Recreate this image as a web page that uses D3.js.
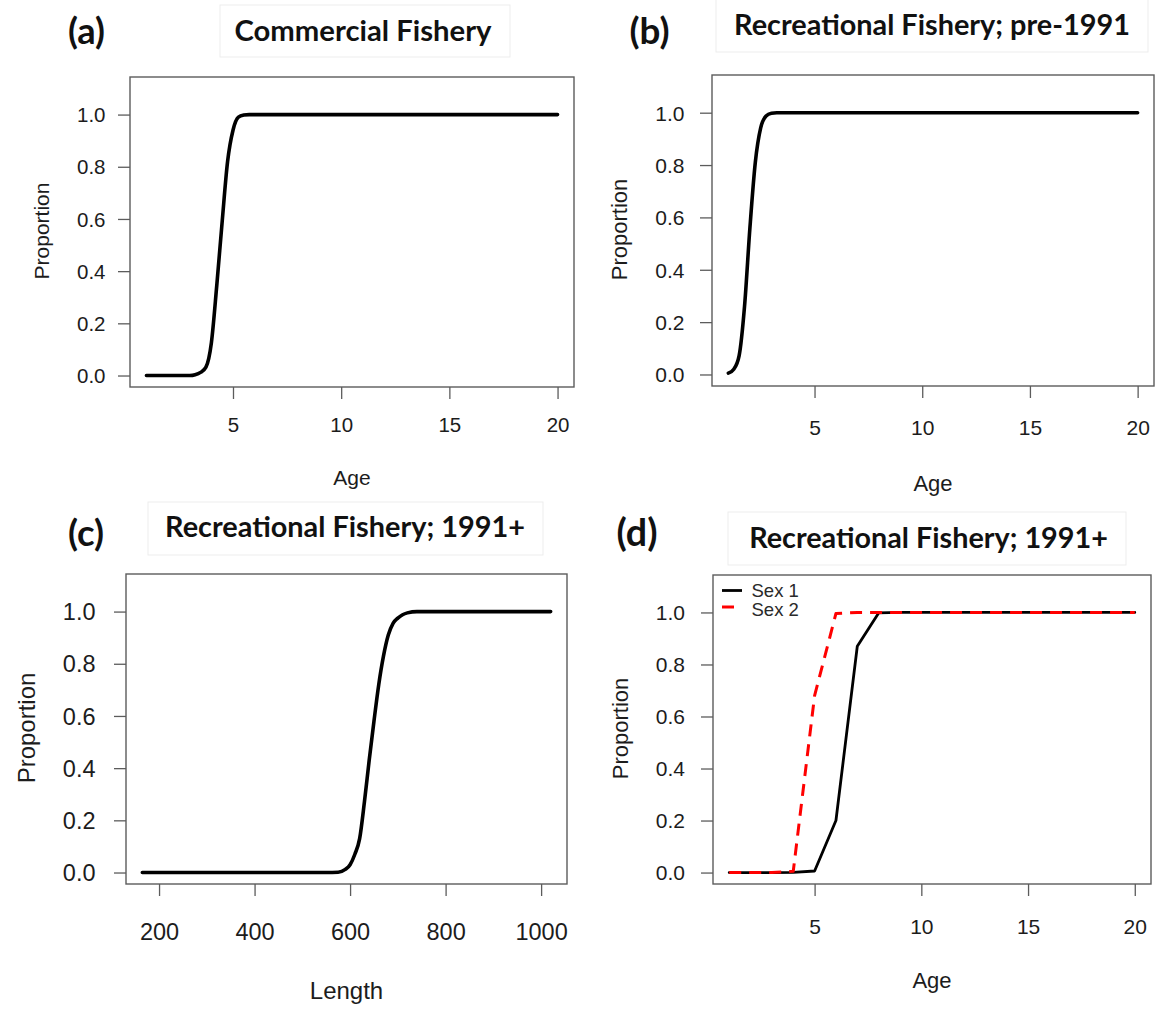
<!DOCTYPE html>
<html>
<head>
<meta charset="utf-8">
<script src="https://cdn.jsdelivr.net/npm/d3@7"></script>
<style>
  html, body { margin: 0; padding: 0; background: #fff; }
  svg { display: block; }
</style>
</head>
<body>
<svg id="fig" width="1155" height="1009"></svg>
<script>
// ---- Selectivity curves ----
// (a) Commercial fishery, selectivity at age
const ageCommercial = [1, 2, 3, 3.25, 3.5, 3.75, 4, 4.25, 4.5, 4.75, 5, 5.25, 5.5, 5.75, 6, 7, 8, 9, 10, 11, 12, 13, 14, 15, 16, 17, 18, 19, 20];
const selCommercial = [0, 0, 0, 0.003, 0.012, 0.032, 0.125, 0.345, 0.59, 0.82, 0.94, 0.99, 0.998, 1, 1, 1, 1, 1, 1, 1, 1, 1, 1, 1, 1, 1, 1, 1, 1];

// (b) Recreational fishery before 1991, selectivity at age
const agePre1991 = [1, 1.25, 1.5, 1.75, 2, 2.25, 2.5, 2.75, 3, 3.25, 4, 5, 6, 7, 8, 9, 10, 11, 12, 13, 14, 15, 16, 17, 18, 19, 20];
const selPre1991 = [0.005, 0.02, 0.072, 0.26, 0.56, 0.81, 0.942, 0.987, 0.998, 1, 1, 1, 1, 1, 1, 1, 1, 1, 1, 1, 1, 1, 1, 1, 1, 1, 1];

// (c) Recreational fishery 1991+, selectivity at length
const lengthRec = [165, 550, 575, 590, 600, 610, 620, 630, 640, 650, 660, 670, 680, 690, 700, 710, 720, 740, 1020];
const selLengthRec = [0, 0, 0.001, 0.012, 0.03, 0.07, 0.13, 0.27, 0.43, 0.58, 0.72, 0.83, 0.91, 0.955, 0.975, 0.988, 0.995, 1, 1];

// (d) Recreational fishery 1991+, selectivity at age by sex
const ageRec = [1, 2, 3, 4, 5, 6, 7, 8, 9, 10, 11, 12, 13, 14, 15, 16, 17, 18, 19, 20];
const selSex1 = [0, 0, 0, 0.001, 0.006, 0.2, 0.87, 0.998, 1, 1, 1, 1, 1, 1, 1, 1, 1, 1, 1, 1];
const selSex2 = [0, 0, 0, 0.005, 0.68, 0.996, 1, 1, 1, 1, 1, 1, 1, 1, 1, 1, 1, 1, 1, 1];
const sexNames = ["Sex 1", "Sex 2"];

// Axis ticks and labels
const ageTicks = [5, 10, 15, 20];
const lengthTicks = [200, 400, 600, 800, 1000];
const propTicks = [0, 0.2, 0.4, 0.6, 0.8, 1.0];
const propLimits = [0, 1.1];
const panelTags = ["(a)", "(b)", "(c)", "(d)"];
const panelTitles = ["Commercial Fishery", "Recreational Fishery; pre-1991", "Recreational Fishery; 1991+", "Recreational Fishery; 1991+"];

const svg = d3.select("#fig");
const AXIS_COLOR = "#5c5c5c";
const TEXT_COLOR = "#1c1c1c";
const SANS = "'Liberation Sans', Arial, sans-serif";
const TITLE_FONT = "Lato, 'Open Sans', sans-serif";

// R-style axis limits: data range padded by 4% on each side
function padded(lo, hi) {
  const e = (hi - lo) * 0.04;
  return [lo - e, hi + e];
}

// Fit bold title text to a target width
function fitText(sel, width) {
  sel.attr("font-size", 100);
  const w = sel.node().getComputedTextLength();
  sel.attr("font-size", 100 * width / w);
}

function drawPanel(p) {
  const g = svg.append("g");
  const b = p.box;

  // heading frame, heading and panel tag
  g.append("rect")
    .attr("x", p.head.box[0]).attr("y", p.head.box[1])
    .attr("width", p.head.box[2] - p.head.box[0])
    .attr("height", p.head.box[3] - p.head.box[1])
    .attr("fill", "none").attr("stroke", "#ededed").attr("stroke-width", 1);
  const t = g.append("text")
    .attr("x", p.head.cx).attr("y", p.head.baseline)
    .attr("text-anchor", "middle")
    .attr("font-family", TITLE_FONT).attr("font-weight", 700)
    .attr("fill", "#111")
    .text(p.title);
  fitText(t, p.head.width);
  const tag = g.append("text")
    .attr("x", p.tag.x).attr("y", p.tag.baseline)
    .attr("font-family", TITLE_FONT).attr("font-weight", 700)
    .attr("fill", "#111")
    .text(p.tagText);
  fitText(tag, p.tag.width);

  const x = d3.scaleLinear().domain(padded(p.xExtent[0], p.xExtent[1])).range([b.left, b.right]);
  const y = d3.scaleLinear().domain(padded(propLimits[0], propLimits[1])).range([b.bottom, b.top]);

  // axes
  const xAxis = g.append("g").attr("transform", `translate(0,${b.bottom})`)
    .call(d3.axisBottom(x).tickValues(p.xTicks).tickSize(12).tickFormat(d3.format("d")));
  const yAxis = g.append("g").attr("transform", `translate(${b.left},0)`)
    .call(d3.axisLeft(y).tickValues(propTicks).tickSize(12).tickFormat(d3.format(".1f")));
  [xAxis, yAxis].forEach(a => {
    a.select(".domain").remove();
    a.selectAll(".tick line").attr("stroke", AXIS_COLOR).attr("stroke-width", 1.3);
    a.selectAll(".tick text")
      .attr("font-family", SANS).attr("font-size", p.tickFont)
      .attr("fill", TEXT_COLOR).attr("dy", "0.35em");
  });
  xAxis.selectAll(".tick text").attr("y", p.xLabelOff);
  yAxis.selectAll(".tick text").attr("x", -p.yLabelGap);

  // plot frame
  g.append("rect")
    .attr("x", b.left).attr("y", b.top)
    .attr("width", b.right - b.left).attr("height", b.bottom - b.top)
    .attr("fill", "none").attr("stroke", AXIS_COLOR).attr("stroke-width", 1.4);

  // axis titles
  g.append("text")
    .attr("x", (b.left + b.right) / 2).attr("y", b.bottom + p.xTitleOff)
    .attr("dy", "0.35em").attr("text-anchor", "middle")
    .attr("font-family", SANS).attr("font-size", p.titleFont).attr("fill", TEXT_COLOR)
    .text(p.xTitle);
  g.append("text")
    .attr("transform", `translate(${b.left - p.yTitleOff},${(b.top + b.bottom) / 2 - 1}) rotate(-90)`)
    .attr("dy", "0.35em").attr("text-anchor", "middle")
    .attr("font-family", SANS).attr("font-size", p.titleFont).attr("fill", TEXT_COLOR)
    .text("Proportion");

  // curves
  p.series.forEach(s => {
    const line = d3.line()
      .x(d => x(d[0])).y(d => y(d[1]))
      .curve(p.smooth ? d3.curveMonotoneX : d3.curveLinear);
    g.append("path")
      .attr("d", line(d3.zip(s.x, s.y)))
      .attr("fill", "none")
      .attr("stroke", s.color)
      .attr("stroke-width", s.width)
      .attr("stroke-dasharray", s.dash || null)
      .attr("stroke-linecap", s.dash ? "butt" : "round")
      .attr("stroke-linejoin", "round");
  });

  // legend (top-left, no frame)
  if (p.legend) {
    p.series.forEach((s, i) => {
      const ly = b.top + p.legend.rows[i];
      g.append("line")
        .attr("x1", b.left + p.legend.x0).attr("x2", b.left + p.legend.x1)
        .attr("y1", ly).attr("y2", ly)
        .attr("stroke", s.color).attr("stroke-width", s.width)
        .attr("stroke-dasharray", s.dash || null);
      g.append("text")
        .attr("x", b.left + p.legend.tx).attr("y", b.top + p.legend.textRows[i]).attr("dy", "0.35em")
        .attr("font-family", SANS).attr("font-size", p.legend.font).attr("fill", "#2a2a2a")
        .text(s.name);
    });
  }
}

const panels = [
  {
    tagText: panelTags[0], title: panelTitles[0],
    head: { box: [220, 5, 510, 57], cx: 363, baseline: 41, width: 257 },
    tag: { x: 68, baseline: 44, width: 37 },
    box: { left: 130, top: 77, right: 574, bottom: 387 },
    xExtent: [1, 20], xTicks: ageTicks, xTitle: "Age", smooth: true,
    tickFont: 20.5, titleFont: 21,
    xLabelOff: 38, yLabelGap: 24.5, xTitleOff: 91, yTitleOff: 88,
    series: [{ x: ageCommercial, y: selCommercial, color: "#000", width: 3.6 }]
  },
  {
    tagText: panelTags[1], title: panelTitles[1],
    head: { box: [716, -2, 1148, 52], cx: 932, baseline: 35, width: 396 },
    tag: { x: 629.5, baseline: 44, width: 40 },
    box: { left: 712, top: 75, right: 1154, bottom: 386 },
    xExtent: [1, 20], xTicks: ageTicks, xTitle: "Age", smooth: true,
    tickFont: 21, titleFont: 22,
    xLabelOff: 42, yLabelGap: 27.5, xTitleOff: 97, yTitleOff: 93,
    series: [{ x: agePre1991, y: selPre1991, color: "#000", width: 3.6 }]
  },
  {
    tagText: panelTags[2], title: panelTitles[2],
    head: { box: [148, 502, 543, 555], cx: 345, baseline: 537, width: 360 },
    tag: { x: 68, baseline: 546, width: 36 },
    box: { left: 126, top: 574, right: 567, bottom: 884 },
    xExtent: [165, 1020], xTicks: lengthTicks, xTitle: "Length", smooth: true,
    tickFont: 23.5, titleFont: 24,
    xLabelOff: 47.5, yLabelGap: 30.5, xTitleOff: 107, yTitleOff: 99,
    series: [{ x: lengthRec, y: selLengthRec, color: "#000", width: 3.6 }]
  },
  {
    tagText: panelTags[3], title: panelTitles[3],
    head: { box: [728, 512, 1126, 565], cx: 928.5, baseline: 548, width: 359 },
    tag: { x: 616.5, baseline: 546, width: 41 },
    box: { left: 713, top: 575, right: 1151, bottom: 884 },
    xExtent: [1, 20], xTicks: ageTicks, xTitle: "Age", smooth: false,
    tickFont: 21, titleFont: 22,
    xLabelOff: 42.5, yLabelGap: 28, xTitleOff: 96, yTitleOff: 93,
    series: [
      { name: sexNames[0], x: ageRec, y: selSex1, color: "#000", width: 2.8 },
      { name: sexNames[1], x: ageRec, y: selSex2, color: "#ff0000", width: 3, dash: "12,8" }
    ],
    legend: { x0: 9, x1: 29, tx: 38.5, rows: [15.5, 32], textRows: [15.5, 35], font: 18.5 }
  }
];

panels.forEach(drawPanel);
</script>
</body>
</html>
